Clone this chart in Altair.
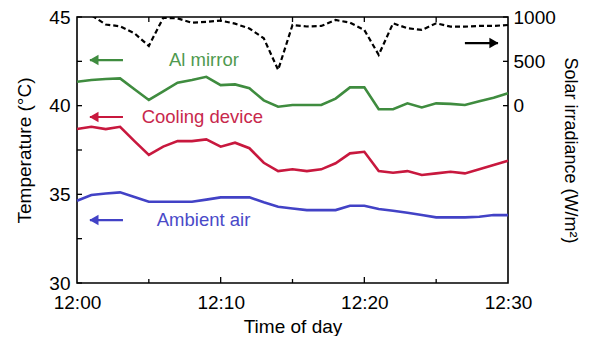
import altair as alt
import pandas as pd

# ---- data ----
minutes = list(range(31))  # minutes after 12:00
al_mirror = [41.35, 41.45, 41.5, 41.54, 40.93, 40.32, 40.8, 41.3, 41.45, 41.63, 41.16,
             41.2, 40.98, 40.3, 39.94, 40.04, 40.04, 40.04, 40.4, 41.03, 41.03,
             39.8, 39.8, 40.13, 39.9, 40.13, 40.1, 40.04, 40.25, 40.45, 40.7]
cooling = [38.68, 38.81, 38.68, 38.81, 38.0, 37.22, 37.69, 38.0, 38.0, 38.1, 37.69,
           37.91, 37.6, 36.78, 36.31, 36.41, 36.31, 36.41, 36.75, 37.31, 37.4,
           36.31, 36.22, 36.31, 36.09, 36.18, 36.27, 36.18, 36.41, 36.65, 36.9]
ambient = [34.64, 34.96, 35.05, 35.11, 34.85, 34.58, 34.58, 34.58, 34.58, 34.7, 34.83,
           34.83, 34.83, 34.55, 34.3, 34.2, 34.11, 34.11, 34.11, 34.36, 34.36,
           34.17, 34.07, 33.96, 33.83, 33.7, 33.7, 33.7, 33.74, 33.83, 33.83]
irradiance = [1080, 1020, 915, 895, 816, 674, 990, 985, 935, 945, 960,
              925, 870, 760, 404, 910, 893, 899, 966, 936, 854,
              573, 929, 873, 854, 929, 891, 891, 899, 899, 910]

series_names = ["Al mirror", "Cooling device", "Ambient air"]
series_colors = ["#3f8c3f", "#c8183e", "#4242c6"]
label_colors = ["#4f9a4f", "#c8284c", "#4a4ac8"]

# annotations (label text + arrows), in data units
label_x = [6.4, 4.5, 5.55]
label_y = [42.55, 39.36, 33.55]
arrow_head_x = [0.9, 0.9, 0.9]
arrow_tail_x = [3.2, 3.2, 3.2]
arrow_y = [42.57, 39.36, 33.55]
sun_arrow_head_x = [29.3]
sun_arrow_tail_x = [27.0]
sun_arrow_y = [43.53]

# tick positions
temp_ticks = [30, 32.5, 35, 37.5, 40, 42.5, 45]
temp_labels = [30, 35, 40, 45]
irr_ticks = [0, 500, 1000]
time_major = [10, 20]
time_minor = [5, 15, 25]
time_labels = [0, 10, 20, 30]

FONT = "Liberation Sans"
W, H = 431, 266

temp_df = pd.DataFrame({
    "minute": minutes * 3,
    "temp": al_mirror + cooling + ambient,
    "series": [series_names[0]] * 31 + [series_names[1]] * 31 + [series_names[2]] * 31,
})
irr_df = pd.DataFrame({"minute": minutes, "irr": irradiance})
lab_df = pd.DataFrame({"x": label_x, "y": label_y, "text": series_names, "color": label_colors})
arr_df = pd.DataFrame({"head": arrow_head_x, "tail": arrow_tail_x, "y": arrow_y, "color": series_colors})
sun_df = pd.DataFrame({"head": sun_arrow_head_x, "tail": sun_arrow_tail_x, "y": sun_arrow_y, "color": ["black"]})

x_scale = alt.Scale(domain=[0, 30], nice=False, zero=False)
y_scale = alt.Scale(domain=[30, 45], nice=False, zero=False)
irr_scale = alt.Scale(domain=[-2000, 1000], nice=False, zero=False)

x_axis = alt.Axis(values=time_labels,
                  labelExpr="'12:' + (datum.value == 0 ? '00' : datum.value)",
                  title="Time of day", ticks=False, domain=False, grid=False,
                  labelFlush=False, labelPadding=10, titlePadding=5)
y_axis = alt.Axis(values=temp_labels, title="Temperature (°C)", ticks=False, domain=False,
                  grid=False, labelPadding=7, titlePadding=14)
irr_axis = alt.Axis(orient="right", values=irr_ticks, format="d", title="Solar irradiance (W/m²)",
                    ticks=False, domain=False, grid=False, labelPadding=5, titlePadding=5,
                    titleFontSize=18)

lines = alt.Chart(temp_df).mark_line(strokeWidth=2.6).encode(
    x=alt.X("minute:Q", scale=x_scale, axis=x_axis),
    y=alt.Y("temp:Q", scale=y_scale, axis=y_axis),
    color=alt.Color("series:N", scale=alt.Scale(domain=series_names, range=series_colors), legend=None),
)

texts = alt.Chart(lab_df).mark_text(align="left", baseline="middle", font=FONT, fontSize=18.5).encode(
    x=alt.X("x:Q", scale=x_scale, axis=x_axis),
    y=alt.Y("y:Q", scale=y_scale, axis=y_axis),
    text="text:N",
    color=alt.Color("color:N", scale=None),
)

def arrow_layers(df, direction):
    rule = alt.Chart(df).mark_rule(strokeWidth=2.2).encode(
        x=alt.X("tail:Q", scale=x_scale, axis=x_axis),
        x2="head:Q",
        y=alt.Y("y:Q", scale=y_scale, axis=y_axis),
        color=alt.Color("color:N", scale=None),
    )
    off = 4 if direction == "left" else -4
    head = alt.Chart(df).mark_point(shape="triangle-" + direction, filled=True, size=110,
                                    opacity=1, xOffset=off).encode(
        x=alt.X("head:Q", scale=x_scale, axis=x_axis),
        y=alt.Y("y:Q", scale=y_scale, axis=y_axis),
        color=alt.Color("color:N", scale=None),
    )
    return [rule, head]

tick_style = dict(color="black", strokeWidth=1.3)
left_ticks = alt.Chart(pd.DataFrame({"t": temp_ticks})).mark_rule(**tick_style).encode(
    y=alt.Y("t:Q", scale=y_scale, axis=y_axis), x=alt.value(0), x2=alt.value(5))
bottom_major = alt.Chart(pd.DataFrame({"m": time_major})).mark_rule(**tick_style).encode(
    x=alt.X("m:Q", scale=x_scale, axis=x_axis), y=alt.value(H), y2=alt.value(H - 6))
bottom_minor = alt.Chart(pd.DataFrame({"m": time_minor})).mark_rule(**tick_style).encode(
    x=alt.X("m:Q", scale=x_scale, axis=x_axis), y=alt.value(H), y2=alt.value(H - 4))
top_ticks = alt.Chart(pd.DataFrame({"m": time_minor + time_major})).mark_rule(**tick_style).encode(
    x=alt.X("m:Q", scale=x_scale, axis=x_axis), y=alt.value(0), y2=alt.value(5))

temp_layer = alt.layer(
    lines, texts, *arrow_layers(arr_df, "left"), *arrow_layers(sun_df, "right"),
    left_ticks, bottom_major, bottom_minor, top_ticks,
)

irr_line = alt.Chart(irr_df).mark_line(color="black", strokeWidth=2.2, strokeDash=[5, 3], clip=True).encode(
    x=alt.X("minute:Q", scale=x_scale, axis=x_axis),
    y=alt.Y("irr:Q", scale=irr_scale, axis=irr_axis),
)
right_ticks = alt.Chart(pd.DataFrame({"v": irr_ticks})).mark_rule(**tick_style).encode(
    y=alt.Y("v:Q", scale=irr_scale, axis=irr_axis), x=alt.value(W), x2=alt.value(W - 5))
irr_layer = alt.layer(irr_line, right_ticks)

chart = alt.layer(temp_layer, irr_layer).resolve_scale(y="independent").properties(
    width=W, height=H,
    autosize=alt.AutoSizeParams(type="none"),
    padding={"left": 69, "top": 9, "right": 74, "bottom": 53},
).configure_view(stroke="black", strokeWidth=1.6).configure_axis(
    labelFont=FONT, titleFont=FONT, labelFontSize=19, titleFontSize=19,
    titleFontWeight="normal", labelColor="black", titleColor="black",
)

chart.save("out.html", embed_options={"renderer": "svg", "actions": False})
